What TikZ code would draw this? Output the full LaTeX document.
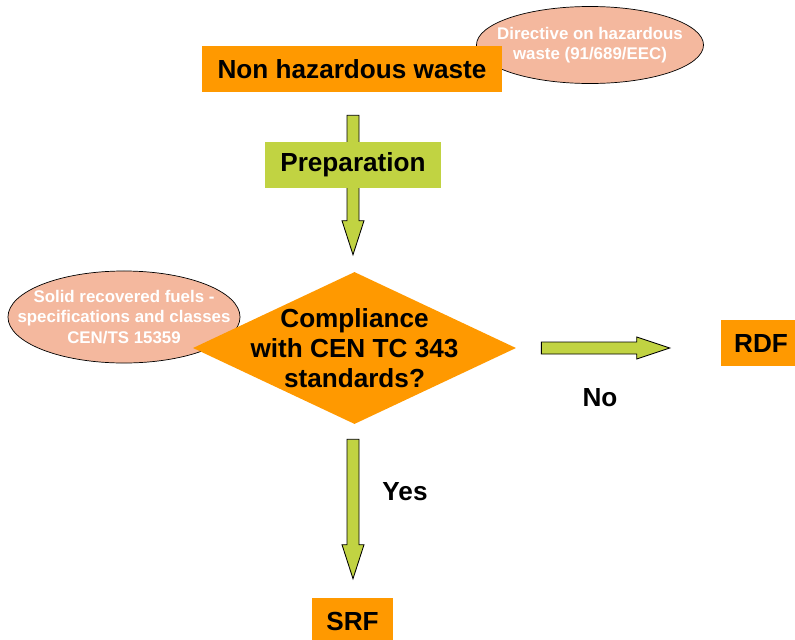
\documentclass[tikz,border=0pt]{standalone}
\usepackage{fontspec}
\setmainfont{Liberation Sans}
\usetikzlibrary{calc,shapes.geometric}
\definecolor{boxorange}{RGB}{255,153,0}
\definecolor{arrgreen}{RGB}{193,211,66}
\definecolor{salmon}{RGB}{244,184,158}
\newcommand\vblockarrow[2]{\draw[blockarr] ($(#1)+(-6,0)$) -- ($(#2)+(-6,-34)$) -- ($(#2)+(-11,-34)$) -- (#2) -- ($(#2)+(11,-34)$) -- ($(#2)+(6,-34)$) -- ($(#1)+(6,0)$) -- cycle;}
\newcommand\hblockarrow[2]{\draw[blockarr] ($(#1)+(0,-6)$) -- ($(#2)+(-33,-6)$) -- ($(#2)+(-33,-11)$) -- (#2) -- ($(#2)+(-33,11)$) -- ($(#2)+(-33,6)$) -- ($(#1)+(0,6)$) -- cycle;}
\begin{document}
\begin{tikzpicture}[x=0.025cm, y=-0.025cm,
	bigfont/.style={font=\fontsize{18.6}{21.3}\selectfont\bfseries},
	stepbox/.style={fill=boxorange, bigfont, minimum height=1.15cm, inner sep=0},
	note/.style={ellipse, draw=black, line width=0.5pt, fill=salmon, inner sep=0},
	notetext/.style={text=white, align=center, inner sep=0, font=\fontsize{12}{14.5}\selectfont\bfseries},
	decision/.style={diamond, fill=boxorange, minimum width=8.075cm, minimum height=3.8cm, inner sep=0},
	blockarr/.style={draw=black, line width=0.6pt, fill=arrgreen}]
	\path[use as bounding box] (0,0) rectangle (795,639);
	\clip (0,0) rectangle (795,639);
	\node[note, minimum width=5.675cm, minimum height=1.925cm] (dir) at (590,45) {};
	\node[notetext] (dirtext) at (dir) {Directive on hazardous\\waste (91/689/EEC)};
	\node[stepbox, minimum width=7.5cm] (nhw) at (352,69) {Non hazardous waste};
	\node[note, minimum width=5.8cm, minimum height=2.3cm] (srfnorm) at (124,317) {};
	\node[notetext] (srfnormtext) at (srfnorm) {Solid recovered fuels -\\specifications and classes\\CEN/TS 15359};
	\node[decision] (comp) at (354.5,348) {};
	\node[bigfont, align=center] (comptext) at (comp) {Compliance\\with CEN TC 343\\standards?};
	\node[stepbox, minimum width=2cm] (rdf) at (761,343) {RDF};
	\node[stepbox, minimum width=2.025cm] (srf) at (352.5,621) {SRF};
	\node[bigfont] (no) at (600,398) {No};
	\node[bigfont] (yes) at (405,492) {Yes};
	\coordinate (a1s) at ($(nhw.south)+(1,23)$);
	\coordinate (a1e) at ($(comp.north)+(-1.5,-17)$);
	\coordinate (a2s) at ($(comp.south)+(-1.5,15)$);
	\coordinate (a2e) at ($(srf.north)+(0.5,-19)$);
	\coordinate (a3s) at ($(comp.east)+(25,0)$);
	\coordinate (a3e) at ($(rdf.west)+(-51,5)$);
	\vblockarrow{a1s}{a1e}
	\node[stepbox, fill=arrgreen, minimum width=4.4cm] (prep) at (353,165) {Preparation};
	\vblockarrow{a2s}{a2e}
	\hblockarrow{a3s}{a3e}
\end{tikzpicture}
\end{document}
